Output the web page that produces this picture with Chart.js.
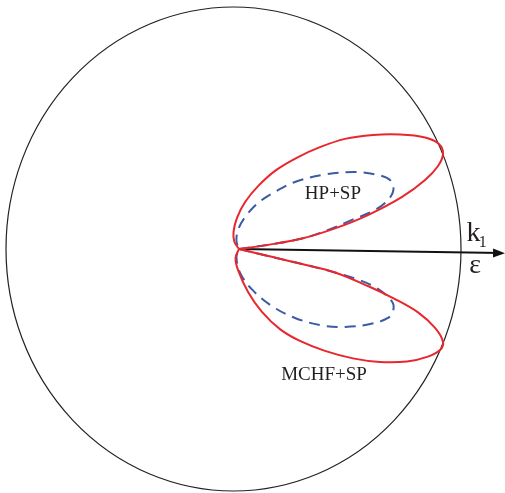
<!DOCTYPE html>
<html>
<head>
<meta charset="utf-8">
<script src="https://cdn.jsdelivr.net/npm/chart.js@4/dist/chart.umd.min.js"></script>
<style>
  html, body { margin: 0; padding: 0; background: #fff; }
  #wrap { width: 505px; height: 493px; }
</style>
</head>
<body>
<div id="wrap"><canvas id="polar" width="505" height="493"></canvas></div>
<script>
// Angular distribution lobes, outer circle radius = 10 units
const mchfUpper = [
  [0.24, 0], [1.52, 0.17], [3.01, 0.43], [4.46, 0.85], [5.91, 1.40], [7.41, 2.15],
  [8.42, 2.85], [8.99, 3.43], [9.21, 3.93], [9.03, 4.34], [8.42, 4.61], [7.32, 4.73],
  [6.13, 4.71], [4.90, 4.55], [3.80, 4.21], [2.84, 3.80], [1.87, 3.26], [1.08, 2.60],
  [0.51, 1.94], [0.15, 1.28], [0.00, 0.70], [0.04, 0.29], [0.24, 0]
];
const mchfLower = [
  [0.24, 0], [1.52, -0.29], [3.01, -0.62], [4.46, -0.97], [5.91, -1.53], [7.10, -2.07],
  [8.11, -2.62], [8.86, -3.26], [9.21, -3.84], [9.08, -4.17], [8.51, -4.46], [7.63, -4.65],
  [6.44, -4.67], [5.25, -4.52], [4.02, -4.21], [2.92, -3.80], [2.04, -3.31], [1.25, -2.60],
  [0.64, -1.78], [0.20, -0.87], [0.09, -0.37], [0.24, 0]
];
const hpUpper = [
  [0.24, 0], [1.52, 0.17], [3.01, 0.43], [4.02, 0.74], [5.21, 1.20], [6.22, 1.61],
  [6.79, 2.02], [7.03, 2.44], [6.88, 2.85], [6.35, 3.06], [5.34, 3.18], [4.02, 3.08],
  [2.70, 2.77], [1.82, 2.36], [1.08, 1.90], [0.51, 1.32], [0.20, 0.79], [0.13, 0.33], [0.24, 0]
];
const hpLower = [
  [0.24, 0], [1.52, -0.29], [3.01, -0.62], [4.46, -0.97], [5.47, -1.26], [6.35, -1.65],
  [6.95, -2.15], [7.03, -2.50], [6.79, -2.85], [5.91, -3.12], [4.90, -3.22], [3.89, -3.16],
  [2.70, -2.85], [1.69, -2.36], [0.81, -1.67], [0.29, -0.99], [0.13, -0.33], [0.24, 0]
];
const kAxis = [[0.24, 0], [11.76, -0.17]];
const outerRadius = 10;

const RED = '#e8262d';
const BLUE = '#3b5ba5';
const SERIF = '"Liberation Serif", "Times New Roman", serif';

const pts = arr => arr.map(p => ({ x: p[0], y: p[1] }));

// outer circle + arrowhead + labels
const decor = {
  id: 'decor',
  beforeDatasetsDraw(chart) {
    const { ctx, scales: { x, y } } = chart;
    const cx = x.getPixelForValue(0), cy = y.getPixelForValue(0);
    const rx = x.getPixelForValue(outerRadius) - cx;
    const ry = cy - y.getPixelForValue(outerRadius);
    ctx.save();
    ctx.strokeStyle = '#222';
    ctx.lineWidth = 1.2;
    ctx.beginPath();
    ctx.ellipse(cx, cy, rx, ry, 0, 0, Math.PI * 2);
    ctx.stroke();
    ctx.restore();
  },
  afterDatasetsDraw(chart) {
    const { ctx, scales: { x, y } } = chart;
    // arrowhead at end of the k axis
    const el = chart.getDatasetMeta(4).data;
    const a = el[el.length - 2], b = el[el.length - 1];
    const ang = Math.atan2(b.y - a.y, b.x - a.x);
    ctx.save();
    ctx.translate(b.x, b.y);
    ctx.rotate(ang);
    ctx.fillStyle = '#111';
    ctx.beginPath();
    ctx.moveTo(4, 0);
    ctx.lineTo(-8, -4.5);
    ctx.lineTo(-8, 4.5);
    ctx.closePath();
    ctx.fill();
    ctx.restore();

    const text = (s, vx, vy, size, align) => {
      ctx.font = size + 'px ' + SERIF;
      ctx.textAlign = align || 'center';
      ctx.textBaseline = 'alphabetic';
      ctx.fillText(s, x.getPixelForValue(vx), y.getPixelForValue(vy));
    };
    ctx.save();
    ctx.fillStyle = '#231f20';
    text('HP+SP', 4.37, 2.05, 19);
    text('MCHF+SP', 3.98, -5.42, 19);
    text('k', 10.55, 0.33, 28);
    text('1', 10.78, 0.08, 16, 'left');
    text('\u03b5', 10.62, -1.0, 28);
    ctx.restore();
  }
};

new Chart(document.getElementById('polar'), {
  type: 'scatter',
  data: {
    datasets: [
      { label: 'MCHF+SP', data: pts(mchfUpper), borderColor: RED, borderWidth: 2 },
      { label: 'MCHF+SP', data: pts(mchfLower), borderColor: RED, borderWidth: 2 },
      { label: 'HP+SP', data: pts(hpUpper), borderColor: BLUE, borderWidth: 2, borderDash: [11, 7] },
      { label: 'HP+SP', data: pts(hpLower), borderColor: BLUE, borderWidth: 2, borderDash: [11, 7] },
      { label: 'k', data: pts(kAxis), borderColor: '#111', borderWidth: 2, tension: 0 }
    ]
  },
  options: {
    responsive: false,
    animation: false,
    layout: { padding: 0 },
    datasets: {
      scatter: { showLine: true, pointRadius: 0, tension: 0.35, fill: false }
    },
    scales: {
      x: { type: 'linear', min: -10.264, max: 11.934, display: false },
      y: { type: 'linear', min: -10.083, max: 10.289, display: false }
    },
    plugins: { legend: { display: false }, tooltip: { enabled: false } }
  },
  plugins: [decor]
});
</script>
</body>
</html>
